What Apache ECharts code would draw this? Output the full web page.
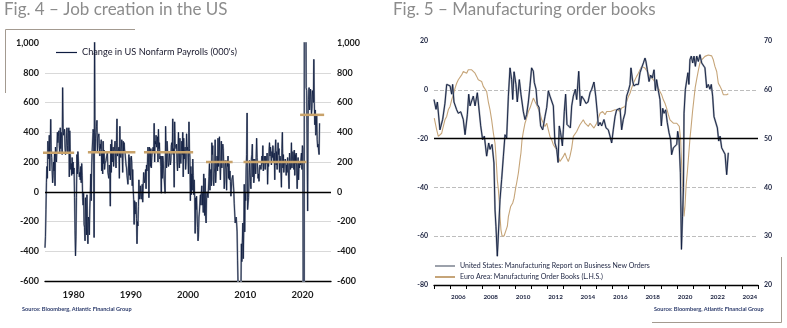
<!DOCTYPE html>
<html><head><meta charset="utf-8">
<script src="https://cdn.jsdelivr.net/npm/echarts@6/dist/echarts.min.js"></script>
<style>html,body{margin:0;padding:0;background:#fff}#c{width:787px;height:328px}</style>
</head><body><div id="c"></div>
<script>
// ---------- Fig. 4 data: monthly change in US nonfarm payrolls (000's), from Jan 1975 ----------
const payrollStartYear = 1975;
const payrolls = [
 -376,-300,-120,60,170,90,340,280,220,380,140,320,
 487,280,230,240,60,110,200,140,260,40,300,230,
 200,290,400,330,370,410,310,260,430,290,400,360,
 250,700,430,380,400,420,300,250,280,360,430,310,
 260,390,430,100,410,250,150,190,110,230,120,200,
 120,160,-40,-260,-431,-300,-40,250,120,270,260,150,
 100,130,80,170,60,190,110,-40,-90,-10,-220,-240,
 -330,-40,-130,-290,-20,-250,-350,-170,-190,-290,-110,-20,
 120,-60,180,280,290,420,400,-308,1114,270,360,350,
 440,480,270,360,350,390,310,240,320,290,350,140,
 270,120,340,190,280,150,190,200,210,200,220,270,
 130,110,90,180,130,-97,320,130,350,200,200,300,
 170,260,250,340,240,160,330,490,240,230,280,300,
 90,440,250,230,240,350,240,130,340,270,330,280,
 260,250,180,160,110,120,50,40,250,110,230,80,
 140,240,200,40,150,20,-50,-220,-60,-150,-120,-70,
 -180,-350,-200,-230,-100,80,-50,-20,40,-30,-50,-60,
 50,-70,40,130,100,60,80,150,20,180,140,200,
 300,250,-40,300,280,170,290,160,230,270,270,300,
 260,460,200,340,320,380,300,290,370,200,420,290,
 330,220,240,170,-10,240,90,240,210,140,150,130,
 -10,440,280,160,340,280,200,170,200,260,250,180,
 210,310,330,260,490,250,290,30,470,320,320,290,
 320,200,140,270,400,200,160,360,220,190,270,340,
 250,400,100,360,220,270,300,150,200,390,280,300,
 250,120,470,290,230,-60,170,-20,120,10,220,110,
 -20,80,-40,-280,-40,-120,-30,-150,-240,-330,-290,-170,
 -130,-140,-20,-90,-10,40,-90,-10,-140,120,10,-160,
 90,-160,-210,-40,0,10,-40,-50,100,190,10,120,
 150,40,330,250,310,80,40,120,160,350,60,130,
 140,240,140,360,170,250,370,190,80,80,340,160,
 280,320,290,180,20,80,210,180,150,10,210,170,
 240,90,190,80,140,70,-30,-20,80,80,110,100,
 10,-80,-80,-210,-190,-170,-210,-270,-460,-620,-800,-690,
 -790,-700,-800,-700,-350,-470,-340,-210,-450,-250,50,-270,
 -10,-60,160,250,530,-120,-80,-40,-50,210,130,70,
 20,220,250,320,100,220,60,100,220,200,120,230,
 360,230,230,90,120,70,160,180,180,150,170,240,
 190,310,140,200,240,200,150,240,190,210,260,50,
 190,170,270,330,240,300,250,180,270,230,310,260,
 200,260,80,280,350,180,270,150,140,330,250,290,
 130,240,220,140,30,290,400,160,250,130,180,180,
 220,200,110,180,130,230,190,180,20,260,230,150,
 180,330,160,170,270,240,150,280,110,250,190,260,
 270,20,140,230,80,190,160,200,180,180,260,150,
 310,290,-1400,-20500,2700,4800,1700,1500,700,680,260,-130,
 520,620,700,550,600,690,640,520,560,680,650,600,
 890,600,450,550,380,400,520,350,300,320,280,250,
 460
];
// expansion averages (tan segments)
const avgStart = [1974.5, 1982.5, 1992.3, 2003.15, 2009.7, 2019.6];
const avgEnd   = [1980.1, 1990.8, 2000.9, 2007.8, 2020.7, 2023.8];
const avgValue = [262, 265, 265, 200, 200, 517];

// ---------- Fig. 5 data: [months since Jan 2005, value] ----------
const usNewOrders = [
 [0,58.0],[1.5,56.0],[2.5,57.5],[4.4,51.8],[6.4,53.9],[8.1,57.2],[9.4,61.1],[10.6,61.5],[11.9,60.8],[13.1,59.1],
 [13.8,61.1],[14.8,57.5],[16.8,55.9],[18,55.2],[19.8,55.5],[21.7,53.9],[23,50.8],[24.7,54.9],[25.7,59.1],[26.7,56.7],
 [27.9,57.7],[29.1,58.7],[30.4,56.7],[32.1,59.4],[33.1,56.7],[34.6,52.6],[36,49.8],[37.3,50.5],[39,46.4],[40.5,49.1],
 [41.5,47.8],[43,48.8],[44.4,45.0],[45.2,35.4],[45.9,32.0],[46.9,25.9],[48.1,32.7],[48.9,37.5],[50.1,41.6],[51.4,46.4],
 [52.6,50.8],[53.8,50.1],[55.1,58.7],[56.3,64.5],[57.5,62.1],[58.3,58.0],[59.3,63.7],[60.7,61.1],[61.7,57.5],[63.2,62.1],
 [64.4,59.1],[66.2,55.5],[67.4,53.9],[68.6,54.9],[69.9,57.5],[71.1,60.8],[72.3,64.5],[73.6,63.8],[74.3,61.5],[75.6,60.1],
 [76.5,57.0],[77.8,56.4],[79,52.6],[80.5,51.8],[82.2,54.5],[83.5,56.4],[84.7,59.8],[85.9,58.7],[87.2,59.1],[88.4,56.7],
 [89.6,49.1],[90.9,47.8],[91.9,45.1],[92.8,52.6],[93.8,51.2],[95.1,48.5],[95.8,51.8],[96.5,55.5],[97.5,59.1],[98.5,52.9],
 [99.8,52.9],[101,52.2],[102,56.7],[103.2,58.7],[104.7,60.1],[105.7,58.0],[107.2,63.8],[108.4,56.7],[109.4,58.7],[111.1,58.0],
 [112.6,57.2],[114.1,57.5],[115.6,59.4],[116.8,60.1],[118.5,61.6],[119.8,58.7],[121,55.2],[121.7,52.6],[123,53.3],[124.2,52.6],
 [125.9,53.9],[127.4,52.2],[129.1,51.8],[130.4,50.5],[131.6,49.1],[132.8,51.8],[134.1,54.5],[135.3,55.9],[136.5,55.9],[137.8,56.2],
 [139,51.8],[140.2,53.9],[141.5,55.2],[142.7,58.7],[144,59.8],[145.2,61.1],[145.9,64.5],[147.2,61.7],[148.1,60.8],[149.6,61.1],
 [151.4,61.1],[152.6,63.5],[153.8,64.5],[155.1,65.5],[156.3,66.5],[157,65.8],[158,64.1],[159.3,61.7],[160.5,63.0],[161.7,62.4],
 [163,64.1],[164,59.8],[164.9,62.1],[166.2,59.8],[167.4,58.0],[168.4,52.6],[169.4,56.2],[170.4,55.2],[171.6,55.9],[172.8,53.3],
 [174.1,51.2],[175.3,49.8],[176,46.7],[177.3,48.1],[178.5,48.1],[179.8,48.8],[180.5,51.5],[181.5,49.8],[182.5,43.0],[183.3,27.3],
 [184.1,34.1],[184.8,40.0],[185.2,55.2],[186.2,60.1],[188.1,63.5],[188.8,61.1],[189.6,66.2],[190.6,66.9],[191.6,65.5],[192.6,66.9],
 [193.6,64.8],[194.6,66.9],[195.8,65.8],[197,67.2],[198.3,65.5],[199.5,65.8],[200.7,64.5],[202,60.4],[203.2,61.1],[204.4,60.1],
 [205.4,61.1],[206.4,58.7],[207.4,54.5],[208.6,54.2],[209.9,52.2],[210.9,49.5],[211.9,50.5],[213.1,48.1],[214.3,48.1],[215.6,46.8],
 [216.8,42.6],[218,47.1]
];
const euOrderBooks = [
 [0.2,-11.6],[2,-16.4],[3.2,-19.1],[4.4,-19.8],[5.7,-17.8],[6.9,-15],[8.1,-12.3],[9.4,-10.9],[10.6,-8.2],[11.9,-6.8],
 [13.1,-4.1],[14.3,-2],[15.6,0.7],[16.8,2.7],[18,4.1],[19.3,3.4],[20.5,6.1],[21.7,7.5],[23,8.2],[24.2,6.8],
 [25.4,8.2],[26.7,8.9],[27.9,8.2],[29.1,7.5],[30.4,6.8],[31.6,5.5],[32.8,4.1],[34.1,4.8],[35.3,3.4],[36.5,1.4],
 [37.8,0.7],[39,-0.7],[40.2,-4.8],[41.5,-8.2],[42.7,-12.3],[44,-17.8],[45.2,-21.9],[45.9,-27.3],[46.9,-36.9],[47.7,-41],
 [48.4,-46.4],[48.9,-52],[49.6,-57.4],[50.4,-59.9],[51.9,-59.9],[53.3,-60.1],[54.3,-56],[55.1,-52],[56.8,-47.8],[58.3,-46.4],
 [59.3,-44.4],[60.7,-39.6],[61.2,-38.3],[62.5,-34.1],[63.7,-28.7],[64.4,-25.9],[65.2,-20.5],[66.2,-17.1],[67.4,-13.7],[68.6,-11.6],
 [69.9,-8.9],[71.1,-7.5],[72.3,-5.5],[73.6,-3.4],[74.8,-4.8],[76,-6.1],[77.3,-6.8],[78.5,-9.6],[79.8,-12.3],[81,-13.7],
 [82.2,-15],[83.5,-13.7],[84.7,-16.4],[85.9,-19.1],[87.2,-20.5],[88.4,-22.5],[89.6,-22.5],[90.9,-24.6],[92.1,-27.3],[93.3,-29.4],
 [94.6,-28.7],[95.8,-27.3],[97,-25.9],[98.3,-28],[99.5,-29.4],[100.7,-27.3],[102,-23.9],[103.2,-19.1],[104.4,-18.4],[105.7,-17.1],
 [106.9,-15.7],[108.1,-14.3],[109.4,-13.7],[110.6,-12.3],[111.9,-13.7],[113.1,-13],[114.3,-15],[115.6,-13.7],[116.8,-13.7],[118.5,-15.7],
 [120.5,-13.7],[123,-9.6],[124.9,-8.9],[126.7,-10.2],[127.9,-8.9],[129.1,-9.6],[130.9,-8.9],[132.3,-9.6],[134.1,-8.2],[135.8,-8.2],
 [137.8,-8.9],[139,-7.5],[140.2,-8.2],[141.5,-6.8],[142.7,-4.8],[144,-2.7],[145.2,-1.4],[146.4,0.7],[147.7,2.7],[148.9,4.1],
 [150.1,5.5],[151.4,6.8],[152.6,8.2],[153.8,9.6],[155.1,9.3],[156.3,8.9],[157.5,8.2],[158.8,6.8],[160,5.5],[161.2,6.1],
 [162.5,4.1],[163.7,4.1],[164.9,2],[166.2,0.7],[167.4,-0.7],[168.6,-2],[169.9,-4.1],[171.1,-5.5],[172.3,-7.5],[173.6,-10.2],
 [174.8,-12.3],[176,-13],[177.3,-13.7],[178.5,-14.3],[179.8,-13.7],[181,-13],[181.7,-15],[182.7,-20.5],[183.4,-30.1],[184.2,-41],
 [185.2,-51.9],[185.9,-47.8],[186.7,-39.6],[187.7,-33.5],[188.6,-27.1],[189.6,-20.0],[190.5,-15.0],[191.5,-9.0],[192.5,-4.0],[193.5,1.0],
 [194.8,5.0],[196,8.5],[197,11],[198.3,12.3],[199.5,12.9],[200.7,13.7],[202,13.9],[203.2,14.3],[204.4,14.3],[205.7,13.9],
 [206.9,12.3],[208.1,9.6],[209.4,7.5],[210.6,2.7],[211.9,1.4],[213.1,0],[214.3,-2],[215.6,-2.5],[216.8,-2],[218,-1.6]
];
const yearCats = ['2005','2006','2007','2008','2009','2010','2011','2012','2013','2014','2015','2016','2017','2018','2019','2020','2021','2022','2023','2024'];

// ---------- styling ----------
const FONT = 'Lato';
const NAVY = '#0e1c40', SHADOW = '#9aa0ab', TAN = '#c8a26a', TAN2 = '#c6a579';
const LBL = '#1a1a1a', LBL2 = '#1c2340';
const LEG1 = "Change in US Nonfarm Payrolls (000's)";
const LEG2 = 'United States: Manufacturing Report on Business New Orders';
const LEG3 = 'Euro Area: Manufacturing Order Books (L.H.S.)';

const payrollPts = payrolls.map((v, i) => [payrollStartYear + i / 12, v]);
const usPts = usNewOrders.map(([m, v]) => [2005 + m / 12, v]);
const euPts = euOrderBooks.map(([m, v]) => [2005 + m / 12, v]);

const avgSeries = avgStart.map((s, i) => ({
  type: 'line', xAxisIndex: 0, yAxisIndex: 0, name: 'avg' + i,
  data: [[s, avgValue[i]], [avgEnd[i], avgValue[i]]],
  showSymbol: false, clip: false, silent: true, z: 4,
  lineStyle: { color: TAN, width: 2.5, cap: 'butt' }
}));

const chart = echarts.init(document.getElementById('c'));
chart.setOption({
  animation: false,
  title: [
    { text: 'Fig. 4 – Job creation in the US', left: 4, top: 1.5, padding: 0,
      textStyle: { fontFamily: FONT, fontSize: 17, fontWeight: 'normal', color: '#8c8c8c' } },
    { text: 'Fig. 5 – Manufacturing order books', left: 393, top: 1.5, padding: 0,
      textStyle: { fontFamily: FONT, fontSize: 17, fontWeight: 'normal', color: '#8c8c8c' } },
    { text: 'Source: Bloomberg, Atlantic Financial Group', left: 22, top: 306, padding: 0,
      textStyle: { fontFamily: FONT, fontSize: 5.6, fontWeight: 'bold', color: '#2b3a6b' } },
    { text: 'Source: Bloomberg, Atlantic Financial Group', left: 654, top: 306, padding: 0,
      textStyle: { fontFamily: FONT, fontSize: 5.6, fontWeight: 'bold', color: '#2b3a6b' } }
  ],
  legend: [
    { data: [{ name: LEG1, itemStyle: { color: NAVY } }], left: 56, top: 48, padding: 0,
      icon: 'rect', itemWidth: 21, itemHeight: 1.2, selectedMode: false,
      textStyle: { fontFamily: FONT, fontSize: 9.2, color: '#1a1a2e' } },
    { data: [{ name: LEG2, itemStyle: { color: '#9ca1ab' } }, { name: LEG3, itemStyle: { color: TAN2 } }],
      orient: 'vertical', left: 435, top: 261.5, padding: 0, itemGap: 2,
      icon: 'rect', itemWidth: 20, itemHeight: 2, selectedMode: false,
      textStyle: { fontFamily: FONT, fontSize: 7, lineHeight: 9, color: '#1c2340' } }
  ],
  grid: [
    { left: 45, top: 43, width: 286, height: 238, containLabel: false },
    { left: 434, top: 41, width: 324, height: 244, containLabel: false }
  ],
  xAxis: [
    { gridIndex: 0, type: 'value', min: 1975, max: 2025, interval: 5,
      axisLine: { onZero: false, lineStyle: { color: '#000', width: 1.3 } },
      axisTick: { show: false }, splitLine: { show: false },
      axisLabel: { formatter: v => (v % 10 === 0 ? String(v) : ''), fontFamily: FONT, fontSize: 9.5,
        fontWeight: 'bold', color: LBL, margin: 9 } },
    { gridIndex: 1, type: 'value', min: 2005, max: 2025, interval: 1,
      axisLine: { onZero: false, lineStyle: { color: '#000', width: 1.3 } },
      axisTick: { show: true, inside: false, length: 4, lineStyle: { color: '#000', width: 1 } },
      axisLabel: { show: false }, splitLine: { show: false } },
    { gridIndex: 1, type: 'category', data: yearCats, boundaryGap: true, position: 'bottom',
      axisLine: { show: false }, axisTick: { show: false }, splitLine: { show: false },
      axisLabel: { interval: (i) => i % 2 === 1, fontFamily: FONT, fontSize: 6.3, fontWeight: 'bold',
        color: LBL2, margin: 9 } }
  ],
  yAxis: [
    { gridIndex: 0, type: 'value', min: -600, max: 1000, interval: 200, position: 'left',
      axisLine: { show: false }, axisTick: { show: false },
      splitLine: { show: true, showMaxLine: false, showMinLine: false, lineStyle: { color: '#d9d9d9', width: 1 } },
      axisLabel: { formatter: v => v.toLocaleString('en-US'), fontFamily: FONT, fontSize: 9,
        fontWeight: 'bold', color: LBL, margin: 6 } },
    { gridIndex: 0, type: 'value', min: -600, max: 1000, interval: 200, position: 'right',
      axisLine: { show: false }, axisTick: { show: false }, splitLine: { show: false },
      axisLabel: { formatter: v => v.toLocaleString('en-US'), fontFamily: FONT, fontSize: 9,
        fontWeight: 'bold', color: LBL, margin: 6 } },
    { gridIndex: 1, type: 'value', min: -80, max: 20, interval: 20, position: 'left',
      axisLine: { show: false }, axisTick: { show: false },
      splitLine: { show: true, showMaxLine: false, showMinLine: false,
        lineStyle: { color: '#bdbdbd', width: 1, type: [4, 2] } },
      axisLabel: { fontFamily: FONT, fontSize: 7, fontWeight: 'bold', color: LBL2, margin: 6 } },
    { gridIndex: 1, type: 'value', min: 20, max: 70, interval: 10, position: 'right',
      axisLine: { show: false }, axisTick: { show: false }, splitLine: { show: false },
      axisLabel: { fontFamily: FONT, fontSize: 7, fontWeight: 'bold', color: LBL2, margin: 6 } }
  ],
  series: [
    { type: 'line', name: 'payrollShadow', xAxisIndex: 0, yAxisIndex: 0, data: payrollPts,
      showSymbol: false, silent: true, z: 2, lineStyle: { color: SHADOW, width: 1.8 } },
    { type: 'line', name: LEG1, xAxisIndex: 0, yAxisIndex: 0, data: payrollPts,
      showSymbol: false, silent: true, z: 3, lineStyle: { color: NAVY, width: 0.8 }, itemStyle: { color: NAVY },
      markLine: { silent: true, symbol: ['none', 'none'], label: { show: false }, animation: false,
        lineStyle: { color: '#000', width: 1.3, type: 'solid' }, data: [{ yAxis: 0 }] } },
    ...avgSeries,
    { type: 'line', name: LEG3, xAxisIndex: 1, yAxisIndex: 2, data: euPts,
      showSymbol: false, silent: true, z: 2, lineStyle: { color: TAN2, width: 1.1 }, itemStyle: { color: TAN2 },
      markLine: { silent: true, symbol: ['none', 'none'], label: { show: false }, animation: false,
        lineStyle: { color: '#000', width: 1.3, type: 'solid' }, data: [{ yAxis: -20 }] } },
    { type: 'line', name: LEG2, xAxisIndex: 1, yAxisIndex: 3, data: usPts,
      showSymbol: false, silent: true, z: 3, lineStyle: { color: '#a3a8b1', width: 1.9 }, itemStyle: { color: '#9ca1ab' } },
    { type: 'line', name: 'usNavy', xAxisIndex: 1, yAxisIndex: 3, data: usPts,
      showSymbol: false, silent: true, z: 4, lineStyle: { color: NAVY, width: 0.9 } }
  ],
  graphic: [
    { type: 'polyline', silent: true, shape: { points: [[5.5, 93], [5.5, 29.5], [135, 29.5]] },
      style: { stroke: '#a39a90', lineWidth: 1, fill: null } },
    { type: 'polyline', silent: true, shape: { points: [[781.5, 257], [781.5, 322.5], [652, 322.5]] },
      style: { stroke: '#a39a90', lineWidth: 1, fill: null } }
  ]
});
</script>
</body></html>
